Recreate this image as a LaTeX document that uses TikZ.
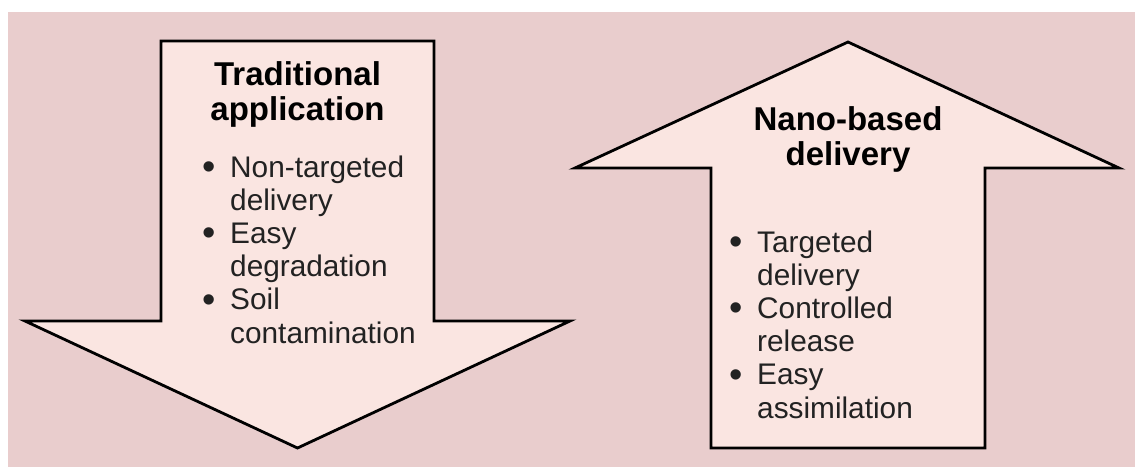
\documentclass[tikz,border=0pt]{standalone}
\usepackage{fontspec}
\setmainfont{Liberation Sans}
\usepackage{xcolor}
\usepackage{tikz}
\usetikzlibrary{positioning}

\definecolor{bgrose}{HTML}{E9CDCD}
\definecolor{arrowrose}{HTML}{FAE5E1}
\definecolor{listtext}{HTML}{222222}
\newcommand{\bdot}{\makebox[28pt][l]{\raisebox{-2.5pt}{\fontsize{38}{38}\selectfont\textbullet}}}

\begin{document}
\begin{tikzpicture}[x=1pt, y=-1pt,
    arrowbody/.style={draw=black, line width=2.8pt, line join=miter, fill=arrowrose},
    headtext/.style={anchor=base, inner sep=0pt, font=\bfseries\fontsize{33}{35}\selectfont, text=black},
    itemlist/.style={anchor=base west, inner sep=0pt, font=\fontsize{29.8}{33.2}\selectfont, text=listtext}]
        \useasboundingbox (0,0) rectangle (1135,467);
        \fill[bgrose] (8,12) rectangle (1135,467);

        % Down arrow: traditional
        \draw[arrowbody] (161,41) -- (434,41) -- (434,321) -- (570,321) -- (297.5,448)
            -- (25,321) -- (161,321) -- cycle;
        \node[headtext] (trad) at (297.5,85) {\begin{tabular}[t]{@{}c@{}}Traditional\\application\end{tabular}};
        \node[itemlist] (tradlist) at (202,177) {\begin{tabular}[t]{@{}l@{}l@{}}
            \bdot & Non-targeted\\ & delivery\\
            \bdot & Easy\\ & degradation\\
            \bdot & Soil\\ & contamination
        \end{tabular}};

        % Up arrow: nano-based
        \draw[arrowbody] (848,42) -- (1119,168) -- (985,168) -- (985,448) -- (711,448)
            -- (711,168) -- (575,168) -- cycle;
        \node[headtext] (nano) at (848,130) {\begin{tabular}[t]{@{}c@{}}Nano-based\\delivery\end{tabular}};
        \node[itemlist] (nanolist) at (729,252) {\begin{tabular}[t]{@{}l@{}l@{}}
            \bdot & Targeted\\ & delivery\\
            \bdot & Controlled\\ & release\\
            \bdot & Easy\\ & assimilation
        \end{tabular}};
\end{tikzpicture}
\end{document}
